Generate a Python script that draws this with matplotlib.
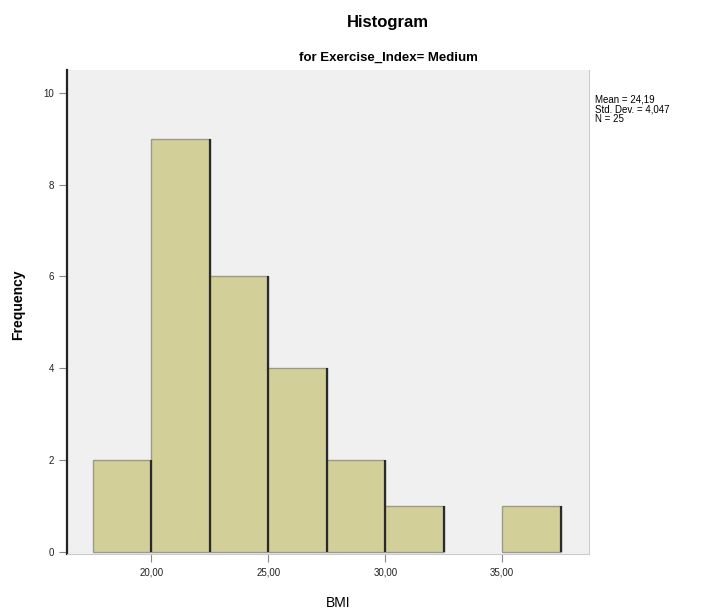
import matplotlib
matplotlib.use("Agg")
import matplotlib.pyplot as plt
import numpy as np

# BMI histogram bins (width 2.5) and counts
bin_edges = [17.5, 20.0, 22.5, 25.0, 27.5, 30.0, 32.5, 35.0, 37.5]
counts = [2, 9, 6, 4, 2, 1, 0, 1]
x_ticks = [20, 25, 30, 35]
x_tick_labels = ["20,00", "25,00", "30,00", "35,00"]
y_ticks = [0, 2, 4, 6, 8, 10]
stats_lines = ["Mean = 24,19", "Std. Dev. = 4,047", "N = 25"]

plt.rcParams['font.family'] = ['Liberation Sans', 'DejaVu Sans']

fig = plt.figure(figsize=(7.06, 6.10), dpi=100)
ax = fig.add_axes([0.095, 0.092, 0.739, 0.793])
ax.set_facecolor('#f0f0f0')

lefts = np.array(bin_edges[:-1])
widths = np.diff(bin_edges)
rights = lefts + widths
heights = np.array(counts)
nonzero = heights > 0

ax.bar(lefts[nonzero], heights[nonzero], width=widths[nonzero], align='edge',
       color='#d3cf99', edgecolor='#9a9a8a', linewidth=1.0, zorder=2)
# darker shading on the right edge of each bar
for r, h in zip(rights[nonzero], heights[nonzero]):
    ax.plot([r, r], [0, h], color='#2a2a2a', linewidth=1.6, zorder=3,
            solid_capstyle='butt')

ax.set_xlim(16.4, 38.7)
ax.set_ylim(-0.05, 10.5)

ax.set_xticks(x_ticks)
ax.set_xticklabels(x_tick_labels)
ax.set_yticks(y_ticks)
ax.tick_params(axis='both', labelsize=7, colors='#222222', length=6,
               width=0.8, direction='out')
ax.tick_params(axis='x', color='#888888')
ax.tick_params(axis='y', color='#888888')

ax.spines['top'].set_visible(False)
ax.spines['left'].set_color('#222222')
ax.spines['left'].set_linewidth(1.6)
ax.spines['right'].set_color('#cccccc')
ax.spines['right'].set_linewidth(0.8)
ax.spines['bottom'].set_color('#cccccc')
ax.spines['bottom'].set_linewidth(0.8)

ax.set_xlabel('BMI', fontsize=10)
ax.xaxis.set_label_coords(0.52, -0.087)
ax.set_ylabel('Frequency', fontsize=10, fontweight='bold')
ax.yaxis.set_label_coords(-0.08, 0.515)

fig.text(0.55, 0.963, 'Histogram', ha='center', va='center',
         fontsize=12, fontweight='bold')
fig.text(0.55, 0.906, 'for Exercise_Index= Medium', ha='center', va='center',
         fontsize=9.5, fontweight='bold')

fig.text(0.843, 0.845, "\n".join(stats_lines), ha='left', va='top',
         fontsize=7, linespacing=0.95)

fig.savefig('out.png', dpi=100)
